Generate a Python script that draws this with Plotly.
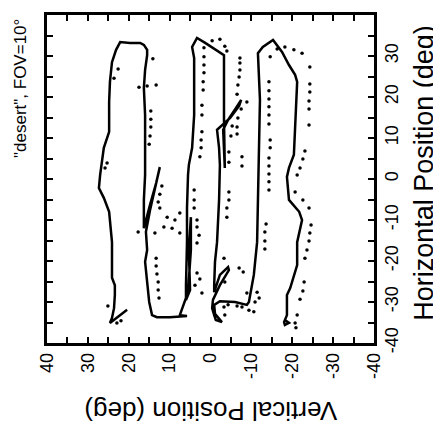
import plotly.graph_objects as go

# Solid scan path (vertical position, horizontal position) in degrees
solid_vertical = [20.4, 24.6, 24.1, 23.6, 23.4, 23.4, 24.1, 24.1, 24.8, 26.1, 27.3, 27.0, 26.1, 24.8, 24.8, 24.6,
                  24.1, 23.1, 22.1, 19.7, 17.2, 16.3, 15.5, 15.5, 16.0, 16.3, 16.0, 16.0, 16.0, 16.3, 16.3, 14.8,
                  13.3, 12.4, 13.1, 14.8, 15.8, 15.5, 16.0, 15.5, 15.0, 14.3, 13.1, 9.9, 5.75, 7.5, 6.5, 5.5,
                  4.8, 4.8, 5.3, 5.0, 6.0, 6.0, 5.75, 5.75, 5.5, 5.3, 4.5, 4.0, 4.0, 4.0, 4.5, 3.3,
                  1.3, -1.1, -3.3, -3.3, -3.5, -3.1, -4.3, -6.2, -7.5, -7.0, -4.8, -1.6, -2.1, -2.3, -2.1, -1.6,
                  -1.1, -0.9, -0.9, -2.3, -4.3, -4.5, -2.3, -0.6, -0.4, -0.9, -1.3, -2.8, -1.1, -0.9, -2.3, -6.0,
                  -8.9, -9.4, -10.6, -11.4, -11.6, -11.9, -12.1, -11.6, -12.8, -15.3, -17.5, -19.2, -20.7, -21.2, -20.9, -20.7,
                  -20.4, -19.2, -18.7, -19.2, -21.7, -22.4, -21.7, -21.2, -21.2, -19.5, -18.7, -18.7, -18.0, -18.2, -19.2, -18.2]
solid_horizontal = [-31.9, -35.1, -33.9, -31.5, -28.3, -25.9, -24.1, -15.4, -8.0, -4.6, -2.2, 1.0, 7.6, 11.5, 18.8, 23.7,
                    28.5, 31.5, 33.4, 33.2, 33.2, 32.7, 31.5, 30.2, 26.6, 22.2, 15.6, 7.6, 1.0, -5.1, -12.0, -6.3,
                    -1.0, 2.9, -0.2, -7.6, -12.9, -17.3, -20.2, -25.9, -30.0, -33.2, -33.7, -33.7, -33.4, -33.2, -30.2, -27.6,
                    -17.3, -9.3, -17.3, -27.1, -29.5, -25.9, -15.4, -7.1, 1.0, 3.4, 7.6, 15.6, 23.7, 29.5, 32.2, 34.4,
                    33.2, 31.7, 30.2, 14.4, 2.7, 12.0, 14.4, 17.3, 19.3, 17.8, 14.9, 12.0, 7.6, 3.4, -5.1, -15.4,
                    -20.2, -25.9, -27.6, -23.4, -21.5, -22.2, -25.9, -29.5, -31.5, -33.2, -34.4, -34.9, -32.9, -30.7, -29.8, -30.0,
                    -30.7, -30.0, -23.4, -15.4, -5.1, 2.9, 19.3, 30.7, 32.2, 33.9, 31.0, 27.8, 25.4, 23.7, 16.8, 11.5,
                    5.9, 2.7, 0.5, -5.1, -8.0, -10.0, -12.9, -15.4, -21.0, -26.6, -28.3, -33.2, -34.9, -35.6, -35.1, -34.4]

# Dotted samples (vertical position, horizontal position) in degrees
dot_vertical = [14.1, 22.6, 23.6, 17.5, 15.5, 13.3, 14.6, 14.6, 14.6, 14.8, 15.0, 25.3, 25.8, 11.9, 12.4, 12.8,
                12.4, 10.6, 8.7, 7.5, 11.4, 9.4, 7.5, 13.6, 17.7, 13.3, 13.3, 13.1, 12.8, 12.8, 12.6, 25.1,
                21.9, 22.9,
                1.6, 1.6, 1.6, 1.6, 1.8, 1.8, 2.1, 2.1, 2.1, 2.3, 2.3, 2.6, -0.4, -2.3, -3.5, -4.0,
                4.0, 4.0, 4.0, 3.3, 3.3, 2.8, 3.3, 3.3, 2.6, 3.8, 2.1,
                -7.2, -7.2, -7.2, -7.0, -6.7, -6.5, -8.9, -7.5, -6.7, -6.5, -5.3, -6.5, -5.0, -4.5, -7.7, -4.5,
                -7.7, -4.5, -4.5, -4.0, -4.0, -3.3, -7.0, -8.0, -3.5, -3.3, -4.3, -6.5, -7.7, -3.5, -8.9, -11.4,
                -11.9, -10.9, -9.4, -10.6,
                -14.6, -14.3, -14.3, -14.3, -14.3, -14.3, -14.3, -14.6, -14.6, -14.3, -14.3, -14.3, -14.3, -14.3, -13.6, -13.3,
                -13.3, -13.3, -16.3, -18.2, -20.4, -22.4, -24.3, -24.3, -24.3, -24.1, -24.1, -24.1, -23.1, -22.6, -21.9, -21.2,
                -20.7, -22.6, -24.1, -24.6, -24.3, -24.1, -23.6, -23.1, -22.9, -22.6, -21.9, -21.2, -20.7, -20.9]
dot_horizontal = [29.3, 26.8, 24.6, 22.4, 22.7, 22.9, 16.6, 14.6, 12.7, 10.5, 8.5, 3.9, 2.7, -1.7, -3.7, -5.6,
                  -7.1, -9.3, -10.0, -8.3, -11.7, -12.0, -13.2, -13.2, -12.9, -19.3, -21.2, -23.2, -25.1, -27.1, -29.0, -31.0,
                  -34.6, -35.1,
                  32.0, 29.8, 27.8, 25.9, 23.7, 21.7, 18.0, 15.6, 11.5, 9.5, 7.6, 5.4, 33.7, 34.1, 32.4, 31.2,
                  -2.7, -5.1, -7.1, -10.0, -11.7, -13.7, -15.6, -22.9, -24.4, -25.9, -27.8,
                  29.5, 28.3, 26.6, 24.9, 22.9, 20.7, 18.8, 17.1, 14.9, 12.7, 12.9, 11.0, 10.5, 6.6, 5.4, 4.1,
                  3.2, -3.2, -5.1, -7.1, -9.3, -19.3, -21.7, -22.7, -25.1, -31.2, -30.7, -31.0, -31.2, -33.2, -27.8, -27.6,
                  -29.0, -30.0, -32.0, -32.4,
                  29.8, 23.7, 21.5, 19.5, 17.6, 15.6, 13.4, 9.5, 7.6, 5.1, 3.2, 1.2, -0.7, -2.7, -11.0, -12.9,
                  -15.1, -17.1, 31.7, 32.2, 31.5, 30.7, 27.3, 23.2, 21.2, 19.0, 17.1, 13.2, 6.8, 4.9, 2.7, 1.0,
                  -3.2, -5.1, -7.1, -11.2, -13.2, -15.1, -17.3, -19.3, -25.1, -27.3, -29.3, -33.2, -35.1, -36.3]

tick_values = list(range(-40, 41, 5))
tick_labels = [str(v) if v % 10 == 0 else "" for v in tick_values]

title_left = '"desert", FOV=10°'
title_right = "Horizontal Position (deg)"
title_bottom = "Vertical Position (deg)"

FONT = "Liberation Sans, Arial, Helvetica, sans-serif"

fig = go.Figure()
fig.add_trace(go.Scatter(x=dot_vertical, y=dot_horizontal, mode="markers",
                         marker=dict(color="black", size=3.5), hoverinfo="skip", showlegend=False))
fig.add_trace(go.Scatter(x=solid_vertical, y=solid_horizontal, mode="lines",
                         line=dict(color="black", width=2.5), hoverinfo="skip", showlegend=False))

axis_common = dict(showgrid=False, zeroline=False, showline=True, linecolor="black", linewidth=2.5,
                   mirror="ticks", ticks="inside", ticklen=6, tickwidth=2, tickcolor="black",
                   tickvals=tick_values, ticktext=tick_labels, tickangle=-90, automargin=False,
                   tickfont=dict(family=FONT, size=18, color="black"))

fig.update_xaxes(range=[40, -40], side="bottom", **axis_common)
fig.update_yaxes(range=[-40, 40], side="right", **axis_common)

fig.update_layout(
    width=433, height=423,
    margin=dict(l=39, r=67, t=7, b=88),
    paper_bgcolor="white", plot_bgcolor="white",
    font=dict(family=FONT, color="black"),
    annotations=[
        dict(text=title_right, x=1.152, y=0.518, xref="paper", yref="paper", showarrow=False,
             textangle=-90, font=dict(size=27, family=FONT), xanchor="center", yanchor="middle"),
        dict(text=title_bottom, x=0.502, y=-0.207, xref="paper", yref="paper", showarrow=False,
             textangle=180, font=dict(size=26, family=FONT), xanchor="center", yanchor="middle"),
        dict(text=title_left, x=-0.083, y=0.777, xref="paper", yref="paper", showarrow=False,
             textangle=-90, font=dict(size=17, family=FONT), xanchor="center", yanchor="middle"),
    ],
)

fig.write_html("out.html")
